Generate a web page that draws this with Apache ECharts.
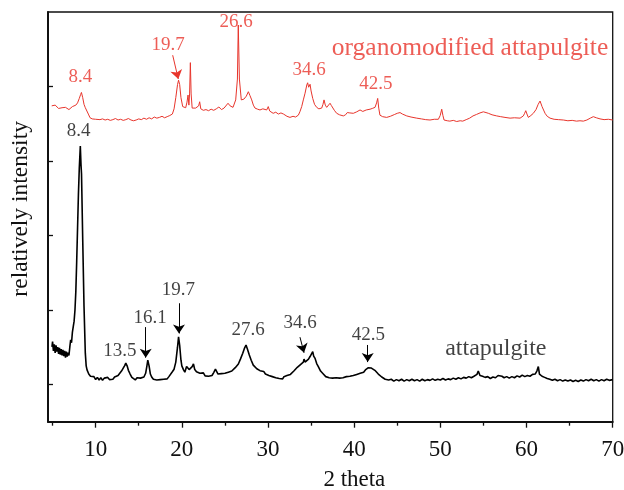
<!DOCTYPE html>
<html><head><meta charset="utf-8">
<script src="https://cdn.jsdelivr.net/npm/echarts@6/dist/echarts.min.js"></script>
<style>html,body{margin:0;padding:0;background:#fff}#c{width:624px;height:490px}</style>
</head><body><div id="c"></div>
<script>
const xMajorTicks = [10,20,30,40,50,60,70];
const xMinorTicks = [5,15,25,35,45,55,65];
const yTicks = [100,300,500,700,900];

const attapulgite = [
[4.93,201],[5.0,215],[5.1,190],[5.2,208],[5.3,185],[5.4,205],[5.5,188],[5.6,200],[5.7,182],[5.8,198],[5.9,180],[6.0,195],[6.1,178],[6.2,193],[6.3,176],[6.4,190],[6.5,172],[6.6,188],[6.7,175],[6.8,185],[6.9,178],[7.0,200],[7.1,220],[7.2,212],[7.3,240],[7.4,255],[7.5,270],[7.6,300],[7.7,350],[7.8,430],[7.9,520],[8.0,610],[8.1,680],[8.22,740],[8.3,690],[8.36,665],[8.5,488],[8.65,309],[8.8,184],[8.9,150],[9.0,139],[9.2,128],[9.4,122],[9.6,118],[9.8,121],[10.0,113],[10.2,119],[10.4,112],[10.6,118],[10.8,111],[11.0,117],[11.2,112],[11.4,119],[11.6,113],[11.8,118],[12.0,114],[12.2,120],[12.4,116],[12.6,124],[12.8,130],[13.0,136],[13.2,141],[13.35,150],[13.5,157],[13.65,150],[13.8,138],[14.0,128],[14.2,119],[14.4,116],[14.6,112],[14.8,118],[15.0,113],[15.2,117],[15.4,114],[15.6,120],[15.8,130],[15.95,150],[16.05,165],[16.2,150],[16.35,128],[16.5,120],[16.7,114],[16.9,118],[17.1,112],[17.3,117],[17.5,113],[17.7,118],[17.9,114],[18.1,119],[18.3,115],[18.5,121],[18.7,126],[18.9,134],[19.1,141],[19.3,160],[19.5,200],[19.62,228],[19.75,205],[19.9,165],[20.0,150],[20.2,139],[20.35,133],[20.55,148],[20.7,152],[20.85,140],[21.0,136],[21.2,148],[21.35,155],[21.5,140],[21.7,134],[21.9,138],[22.1,130],[22.3,127],[22.5,131],[22.7,123],[22.9,128],[23.1,122],[23.3,127],[23.5,124],[23.7,132],[23.9,141],[24.05,138],[24.2,128],[24.4,125],[24.6,129],[24.8,124],[25.0,130],[25.2,126],[25.4,133],[25.6,129],[25.8,136],[26.0,138],[26.2,145],[26.4,150],[26.56,155],[26.8,168],[27.07,184],[27.25,196],[27.45,206],[27.6,196],[27.83,179],[28.05,165],[28.29,152],[28.5,148],[28.7,142],[28.9,140],[29.07,137],[29.3,134],[29.5,135],[29.7,128],[29.9,130],[30.1,124],[30.3,127],[30.5,121],[30.7,124],[30.9,118],[31.1,122],[31.3,116],[31.5,120],[31.7,115],[31.85,121],[32.0,118],[32.2,124],[32.4,121],[32.6,127],[32.8,131],[33.0,136],[33.2,140],[33.4,146],[33.6,150],[33.8,154],[33.95,158],[34.1,160],[34.18,168],[34.3,160],[34.5,165],[34.7,168],[34.88,175],[35.05,180],[35.19,188],[35.3,176],[35.46,170],[35.65,156],[35.84,148],[36.1,136],[36.42,128],[36.7,121],[36.9,124],[37.1,118],[37.3,122],[37.5,117],[37.7,121],[37.9,118],[38.1,122],[38.3,117],[38.5,121],[38.7,118],[38.9,122],[39.1,121],[39.3,124],[39.5,122],[39.7,126],[39.9,124],[40.1,129],[40.3,127],[40.5,132],[40.7,130],[40.9,135],[41.1,133],[41.3,139],[41.5,142],[41.65,145],[41.8,140],[42.0,144],[42.2,141],[42.4,138],[42.6,134],[42.8,128],[43.0,126],[43.2,120],[43.4,118],[43.6,114],[43.8,116],[44.0,112],
[44.3,114],[44.6,109],[44.9,113],[45.2,110],[45.5,114],[45.8,109],[46.1,113],[46.4,110],[46.7,114],[47.0,110],[47.3,113],[47.6,109],[47.9,114],[48.2,110],[48.5,113],[48.8,111],[49.1,115],[49.4,111],[49.7,114],[50.0,112],[50.3,116],[50.6,112],[50.9,115],[51.2,113],[51.5,117],[51.8,114],[52.1,118],[52.4,115],[52.7,119],[53.0,117],[53.3,121],[53.6,118],[53.9,122],[54.1,121],[54.25,127],[54.4,136],[54.6,124],[54.9,122],[55.2,119],[55.5,121],[55.8,116],[56.1,120],[56.4,118],[56.7,124],[56.93,127],[57.15,122],[57.4,118],[57.7,121],[58.0,117],[58.3,121],[58.6,118],[58.9,123],[59.2,120],[59.5,125],[59.8,121],[60.1,124],[60.4,122],[60.7,127],[61.0,128],[61.2,136],[61.37,148],[61.5,128],[61.8,122],[62.1,119],[62.4,116],[62.7,114],[63.0,111],[63.3,114],[63.6,110],[63.9,113],[64.2,109],[64.5,112],[64.8,109],[65.1,112],[65.4,108],[65.7,111],[66.0,108],[66.3,112],[66.6,109],[66.9,113],[67.2,110],[67.5,114],[67.8,110],[68.1,113],[68.4,109],[68.7,113],[69.0,110],[69.3,114],[69.6,111],[70.0,113]
];

const organomodified = [
[4.9,848],[5.1,844],[5.3,850],[5.5,845],[5.7,841],[5.9,846],[6.1,843],[6.3,839],[6.5,844],[6.7,840],[6.9,838],[7.1,843],[7.3,846],[7.5,848],[7.7,850],[7.9,856],[8.1,868],[8.25,878],[8.35,884],[8.5,870],[8.65,852],[8.8,843],[8.95,838],[9.15,826],[9.35,816],[9.6,813],[9.8,815],[10.0,812],[10.2,814],[10.5,811],[10.8,813],[11.1,810],[11.4,812],[11.7,809],[12.0,811],[12.3,814],[12.6,810],[12.9,812],[13.2,809],[13.5,811],[13.8,814],[14.1,810],[14.4,808],[14.7,810],[15.0,813],[15.3,811],[15.6,815],[15.9,812],[16.2,816],[16.5,813],[16.8,818],[17.1,815],[17.4,817],[17.7,820],[18.0,816],[18.3,819],[18.6,822],[18.9,826],[19.1,840],[19.3,870],[19.5,905],[19.62,917],[19.75,905],[19.9,870],[20.1,846],[20.3,842],[20.45,843],[20.6,858],[20.72,877],[20.82,850],[20.9,880],[20.99,964],[21.08,880],[21.2,842],[21.4,840],[21.6,842],[21.8,841],[21.95,848],[22.07,859],[22.2,840],[22.5,836],[22.8,838],[23.1,835],[23.4,839],[23.7,836],[24.0,840],[24.3,845],[24.6,838],[24.9,842],[25.1,846],[25.36,855],[25.6,848],[25.94,844],[26.25,864],[26.45,920],[26.55,1065],[26.68,920],[26.9,864],[27.2,866],[27.48,874],[27.72,886],[27.9,876],[28.11,864],[28.3,850],[28.49,842],[28.8,839],[29.07,837],[29.4,840],[29.6,836],[29.85,837],[30.03,846],[30.2,834],[30.6,828],[30.9,831],[31.2,826],[31.5,829],[31.8,826],[32.2,820],[32.55,817],[32.9,820],[33.2,818],[33.52,823],[33.7,832],[33.91,846],[34.1,864],[34.3,882],[34.5,904],[34.6,910],[34.72,898],[34.88,906],[35.0,888],[35.19,868],[35.4,852],[35.65,844],[35.9,840],[36.23,842],[36.38,852],[36.5,864],[36.65,850],[36.81,844],[37.0,848],[37.2,855],[37.35,849],[37.51,846],[37.7,836],[37.97,828],[38.3,824],[38.74,821],[39.0,824],[39.2,830],[39.32,835],[39.5,829],[39.9,828],[40.3,832],[40.68,837],[41.0,833],[41.4,837],[41.84,839],[42.1,841],[42.42,844],[42.6,856],[42.73,868],[42.85,842],[42.99,823],[43.3,819],[43.77,817],[44.2,820],[44.7,825],[45.0,828],[45.32,830],[45.6,826],[46.1,821],[46.6,818],[47.26,815],[47.8,813],[48.3,811],[48.8,810],[49.3,812],[49.77,812],[49.98,822],[50.16,839],[50.3,822],[50.43,810],[50.8,808],[51.1,807],[51.5,809],[51.9,806],[52.3,808],[52.6,807],[53.0,811],[53.4,815],[53.79,821],[54.2,825],[54.6,829],[54.99,832],[55.3,830],[55.57,828],[56.0,824],[56.54,821],[57.0,819],[57.5,817],[58.09,815],[58.6,816],[59.25,815],[59.63,821],[59.78,828],[59.91,835],[60.05,826],[60.21,817],[60.5,822],[60.79,828],[61.1,838],[61.35,852],[61.57,861],[61.8,846],[62.15,828],[62.4,820],[62.73,815],[63.2,812],[63.7,811],[64.27,810],[64.8,808],[65.3,809],[65.8,807],[66.2,808],[66.59,807],[67.0,810],[67.4,815],[67.75,819],[68.1,816],[68.53,813],[69.0,811],[69.5,812],[70.0,810]
];

// peak labels: [text, x, y] (data coordinates)
const blackPeakLabels = [['8.4',8.01,780],['13.5',12.8,191],['16.1',16.31,278],['19.7',19.59,353],['27.6',27.68,246],['34.6',33.72,266],['42.5',41.64,234]];
const redPeakLabels = [['8.4',8.24,925],['19.7',18.4,1011],['26.6',26.29,1073],['34.6',34.76,944],['42.5',42.53,907]];
const blackName = ['attapulgite',56.44,195];
const redName = ['organomodified attapulgite',53.44,1003];
// arrows: [[x1,y1],[x2,y2]]
const blackArrows = [[[15.81,254],[15.81,172]],[[19.67,318],[19.67,237]],[[33.71,227],[34.18,185]],[[41.57,206],[41.57,160]]];
const redArrows = [[[18.94,984],[19.59,920]]];

const BLACK = '#000';
const RED = '#e8352c';
const FONT = 'Liberation Serif';

function labelItems(list, size, color) {
  return list.map(l => ({name: l[0], value: [l[1], l[2]],
    label: {show: true, position: 'inside', formatter: '{b}', fontSize: size, color: color, fontFamily: FONT}}));
}
function arrowData(list) {
  return list.map(a => [{coord: a[0]}, {coord: a[1]}]);
}

const chart = echarts.init(document.getElementById('c'), null, {renderer: 'canvas'});
chart.setOption({
  animation: false,
  backgroundColor: '#fff',
  grid: {left: 48, right: 11.3, top: 12, bottom: 68.3, containLabel: false, outerBoundsMode: 'none',
    show: true, borderColor: '#111', borderWidth: 1.3, backgroundColor: 'transparent'},
  xAxis: [{
    type: 'value', min: 4.47, max: 70, position: 'bottom',
    axisLine: {show: true, onZero: false, lineStyle: {color: '#111', width: 2}},
    axisTick: {show: true, inside: false, length: 6, customValues: xMajorTicks, lineStyle: {color: '#111', width: 1.3}},
    axisLabel: {show: true, customValues: xMajorTicks, fontSize: 23, color: '#111', fontFamily: FONT, margin: 17},
    splitLine: {show: false},
    name: '2 theta', nameLocation: 'middle', nameGap: 47,
    nameTextStyle: {fontSize: 23, color: '#111', fontFamily: FONT, padding: [0, 0, 0, 48]}
  }, {
    type: 'value', min: 4.47, max: 70, position: 'bottom',
    axisLine: {show: false},
    axisTick: {show: true, inside: false, length: 4, customValues: xMinorTicks, lineStyle: {color: '#111', width: 1.3}},
    axisLabel: {show: false},
    splitLine: {show: false}
  }],
  yAxis: {
    type: 'value', min: 0, max: 1100,
    axisLine: {show: true, onZero: false, lineStyle: {color: '#111', width: 2}},
    axisTick: {show: true, inside: true, length: 5, customValues: yTicks, lineStyle: {color: '#111', width: 1.3}},
    axisLabel: {show: false},
    splitLine: {show: false},
    name: 'relatively intensity', nameLocation: 'middle', nameGap: 15,
    nameTextStyle: {fontSize: 23.5, color: '#111', fontFamily: FONT, padding: [0, 0, 0, 16]}
  },
  series: [{
    name: 'attapulgite', type: 'line', data: attapulgite, showSymbol: false, symbol: 'none',
    lineStyle: {color: BLACK, width: 1.6}, z: 3,
    markLine: {silent: true, symbol: ['none', 'arrow'], symbolSize: 9, label: {show: false},
      lineStyle: {color: BLACK, width: 1, type: 'solid'}, data: arrowData(blackArrows)}
  }, {
    name: 'organomodified attapulgite', type: 'line', data: organomodified, showSymbol: false, symbol: 'none',
    lineStyle: {color: RED, width: 1}, z: 3,
    markLine: {silent: true, symbol: ['none', 'arrow'], symbolSize: 9, label: {show: false},
      lineStyle: {color: RED, width: 1, type: 'solid'}, data: arrowData(redArrows)}
  }, {
    name: 'labels', type: 'scatter', symbolSize: 1, itemStyle: {color: 'rgba(0,0,0,0)'}, silent: true, z: 5,
    data: [].concat(
      labelItems(blackPeakLabels, 19, '#111'),
      labelItems(redPeakLabels, 19, RED),
      labelItems([blackName], 24, '#111'),
      labelItems([redName], 25.5, RED))
  }]
});
</script>
</body></html>
